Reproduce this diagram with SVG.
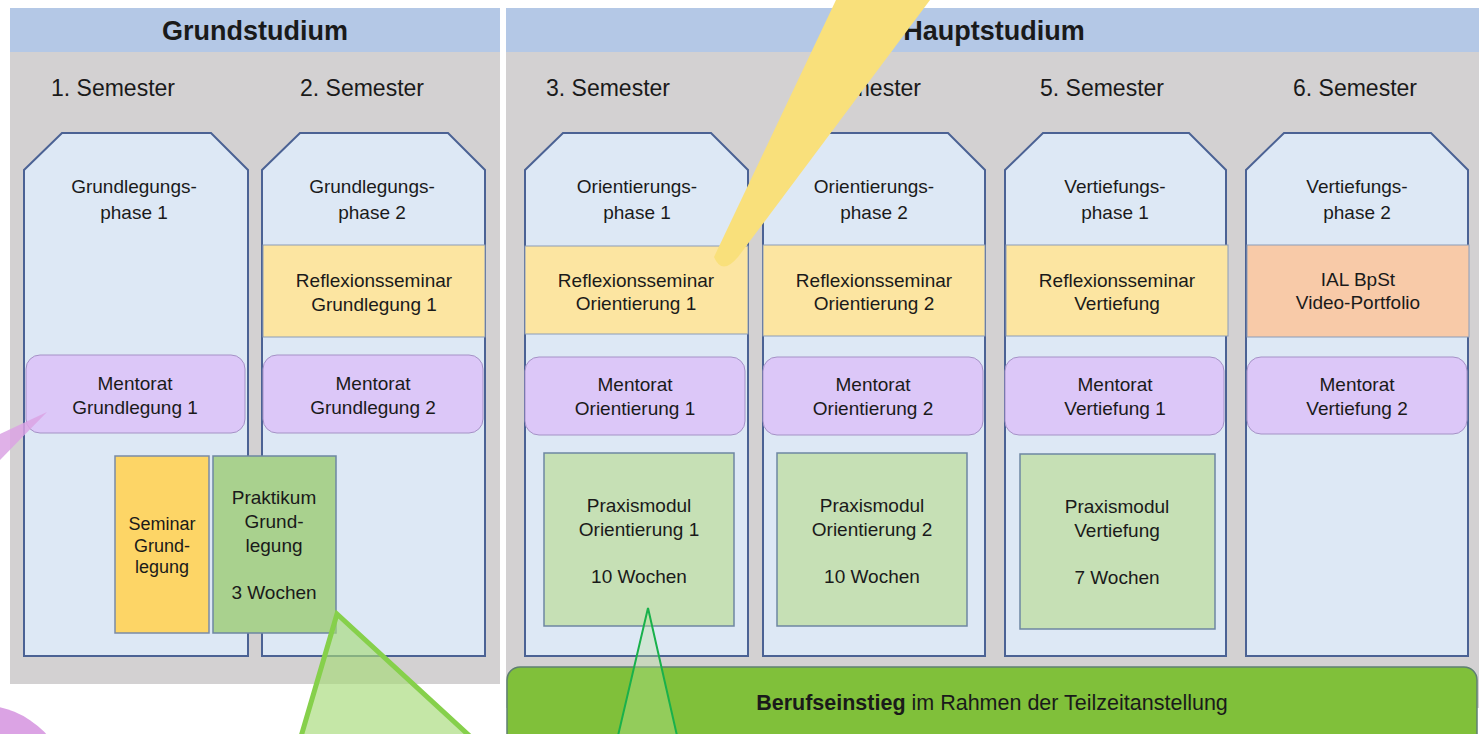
<svg xmlns="http://www.w3.org/2000/svg" width="1479" height="734" viewBox="0 0 1479 734">
<style>
text{font-family:"Liberation Sans",Arial,sans-serif;fill:#1a1a1a;text-anchor:middle}
.hdr{font-size:27px;font-weight:bold}
.sem{font-size:23px}
.t{font-size:19px}
.ts{font-size:18px}
.panel{fill:#d3d1d2}
.band{fill:#b4c8e6}
.col{fill:#dde8f5;stroke:#4b6294;stroke-width:2}
.refl{fill:#fce5a1;stroke:#8c9cb8;stroke-width:1}
.ial{fill:#f8caa8;stroke:#8c9cb8;stroke-width:1}
.ment{fill:#dcc7f8;stroke:#a592c6;stroke-width:1}
.sem-g{fill:#fdd566;stroke:#7a8aa6;stroke-width:1.5}
.prak{fill:#a9d18e;stroke:#6e86a2;stroke-width:1.5}
.praxis{fill:#c6e0b5;stroke:#6e86a2;stroke-width:1.5}
.bar{fill:#80c03a;stroke:#5f7f72;stroke-width:1.5}
</style>

<g id="grundstudium">
<rect class="panel" x="10" y="8" width="490" height="676"/>
<rect class="band" x="10" y="8" width="490" height="44"/>
<text class="hdr" x="255" y="40">Grundstudium</text>
</g>
<g id="hauptstudium">
<rect class="panel" x="506" y="8" width="973" height="700"/>
<rect class="band" x="506" y="8" width="973" height="44"/>
<text class="hdr" x="994" y="40">Hauptstudium</text>
</g>

<g id="semester-labels">
<text class="sem" x="113" y="96">1. Semester</text>
<text class="sem" x="362" y="96">2. Semester</text>
<text class="sem" x="608" y="96">3. Semester</text>
<text class="sem" x="859" y="96">4. Semester</text>
<text class="sem" x="1102" y="96">5. Semester</text>
<text class="sem" x="1355" y="96">6. Semester</text>
</g>

<g id="col1">
<path class="col" d="M24,170 L62,133 L211,133 L248,170 L248,656 L24,656 Z"/>
<text class="t" x="134" y="193">Grundlegungs-</text>
<text class="t" x="134" y="219">phase 1</text>
</g>
<g id="col2">
<path class="col" d="M262,170 L300,133 L448,133 L485,170 L485,656 L262,656 Z"/>
<text class="t" x="372" y="193">Grundlegungs-</text>
<text class="t" x="372" y="219">phase 2</text>
</g>
<g id="col3">
<path class="col" d="M525,170 L563,133 L711,133 L748,170 L748,656 L525,656 Z"/>
<text class="t" x="637" y="193">Orientierungs-</text>
<text class="t" x="637" y="219">phase 1</text>
</g>
<g id="col4">
<path class="col" d="M763,170 L801,133 L948,133 L985,170 L985,656 L763,656 Z"/>
<text class="t" x="874" y="193">Orientierungs-</text>
<text class="t" x="874" y="219">phase 2</text>
</g>
<g id="col5">
<path class="col" d="M1005,170 L1043,133 L1189,133 L1226,170 L1226,656 L1005,656 Z"/>
<text class="t" x="1115" y="193">Vertiefungs-</text>
<text class="t" x="1115" y="219">phase 1</text>
</g>
<g id="col6">
<path class="col" d="M1246,170 L1284,133 L1431,133 L1468,170 L1468,656 L1246,656 Z"/>
<text class="t" x="1357" y="193">Vertiefungs-</text>
<text class="t" x="1357" y="219">phase 2</text>
</g>

<g id="refl-grundlegung-1">
<rect class="refl" x="263" y="245" width="222" height="92"/>
<text class="t" x="374" y="287">Reflexionsseminar</text>
<text class="t" x="374" y="311">Grundlegung 1</text>
</g>
<g id="refl-orientierung-1">
<rect class="refl" x="525" y="246" width="223" height="88"/>
<text class="t" x="636" y="287">Reflexionsseminar</text>
<text class="t" x="636" y="310">Orientierung 1</text>
</g>
<g id="refl-orientierung-2">
<rect class="refl" x="763" y="245" width="222" height="91"/>
<text class="t" x="874" y="287">Reflexionsseminar</text>
<text class="t" x="874" y="310">Orientierung 2</text>
</g>
<g id="refl-vertiefung">
<rect class="refl" x="1006" y="245" width="222" height="91"/>
<text class="t" x="1117" y="287">Reflexionsseminar</text>
<text class="t" x="1117" y="310">Vertiefung</text>
</g>
<g id="ial-video-portfolio">
<rect class="ial" x="1247" y="245" width="222" height="92"/>
<text class="t" x="1358" y="286">IAL BpSt</text>
<text class="t" x="1358" y="309">Video-Portfolio</text>
</g>

<g id="mentorat-grundlegung-1">
<rect class="ment" x="26" y="355" width="219" height="78" rx="14"/>
<text class="t" x="135" y="390">Mentorat</text>
<text class="t" x="135" y="414">Grundlegung 1</text>
</g>
<g id="mentorat-grundlegung-2">
<rect class="ment" x="263" y="355" width="220" height="78" rx="14"/>
<text class="t" x="373" y="390">Mentorat</text>
<text class="t" x="373" y="414">Grundlegung 2</text>
</g>
<g id="mentorat-orientierung-1">
<rect class="ment" x="525" y="357" width="220" height="78" rx="14"/>
<text class="t" x="635" y="391">Mentorat</text>
<text class="t" x="635" y="415">Orientierung 1</text>
</g>
<g id="mentorat-orientierung-2">
<rect class="ment" x="763" y="357" width="220" height="78" rx="14"/>
<text class="t" x="873" y="391">Mentorat</text>
<text class="t" x="873" y="415">Orientierung 2</text>
</g>
<g id="mentorat-vertiefung-1">
<rect class="ment" x="1005" y="357" width="219" height="78" rx="14"/>
<text class="t" x="1115" y="391">Mentorat</text>
<text class="t" x="1115" y="415">Vertiefung 1</text>
</g>
<g id="mentorat-vertiefung-2">
<rect class="ment" x="1247" y="357" width="220" height="77" rx="14"/>
<text class="t" x="1357" y="391">Mentorat</text>
<text class="t" x="1357" y="415">Vertiefung 2</text>
</g>

<g id="seminar-grundlegung">
<rect class="sem-g" x="115" y="456" width="94" height="177"/>
<text class="ts" x="162" y="530">Seminar</text>
<text class="ts" x="162" y="552">Grund-</text>
<text class="ts" x="162" y="573">legung</text>
</g>
<g id="praktikum-grundlegung">
<rect class="prak" x="213" y="456" width="123" height="177"/>
<text class="t" x="274" y="504">Praktikum</text>
<text class="t" x="274" y="528">Grund-</text>
<text class="t" x="274" y="552">legung</text>
<text class="t" x="274" y="599">3 Wochen</text>
</g>

<g id="praxismodul-orientierung-1">
<rect class="praxis" x="544" y="453" width="190" height="173"/>
<text class="t" x="639" y="512">Praxismodul</text>
<text class="t" x="639" y="536">Orientierung 1</text>
<text class="t" x="639" y="583">10 Wochen</text>
</g>
<g id="praxismodul-orientierung-2">
<rect class="praxis" x="777" y="453" width="190" height="173"/>
<text class="t" x="872" y="512">Praxismodul</text>
<text class="t" x="872" y="536">Orientierung 2</text>
<text class="t" x="872" y="583">10 Wochen</text>
</g>
<g id="praxismodul-vertiefung">
<rect class="praxis" x="1020" y="454" width="195" height="175"/>
<text class="t" x="1117" y="513">Praxismodul</text>
<text class="t" x="1117" y="537">Vertiefung</text>
<text class="t" x="1117" y="584">7 Wochen</text>
</g>

<g id="berufseinstieg">
<rect class="bar" x="507" y="667" width="970" height="80" rx="13"/>
<text x="992" y="710" style="font-size:21.5px"><tspan font-weight="bold">Berufseinstieg</tspan> im Rahmen der Teilzeitanstellung</text>
</g>

<g id="connectors">
<path d="M836,0 L930,0 L738,257 Q722,276 714,257 Z" fill="#f9e07b"/>
<path d="M47,412 L0,434 L0,460 Z" fill="#dba3e4" fill-opacity="0.85"/>
<circle cx="-20" cy="795" r="90" fill="#dba3e4"/>
<path d="M337,614 L300,740 L474,740 Z" fill="#a6da78" fill-opacity="0.65" stroke="#86d04b" stroke-width="5" stroke-linejoin="miter"/>
<path d="M648,608 L617,740 L678,740 Z" fill="#b8e29a" fill-opacity="0.35" stroke="#19b14b" stroke-width="2"/>
</g>
</svg>
